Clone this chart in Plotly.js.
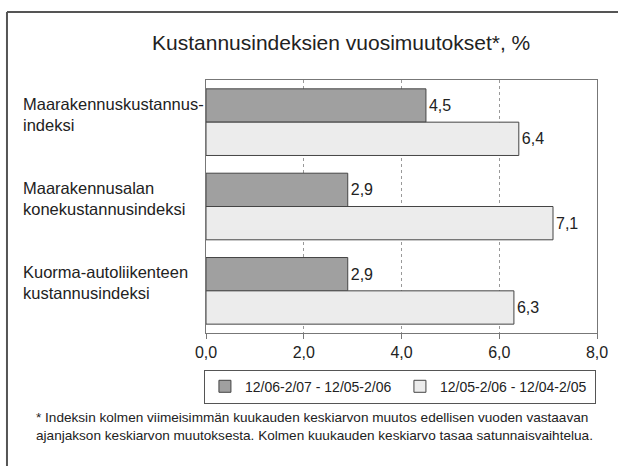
<!DOCTYPE html>
<html>
<head>
<meta charset="utf-8">
<script src="https://cdn.plot.ly/plotly-3.0.1.min.js"></script>
<style>
html,body{margin:0;padding:0;background:#fff;}
#chart{width:618px;height:466px;}
</style>
</head>
<body>
<div id="chart"></div>
<script>
var categories = ["Maarakennuskustannus-<br>indeksi", "Maarakennusalan<br>konekustannusindeksi", "Kuorma-autoliikenteen<br>kustannusindeksi"];
var categoryKeys = ["A", "B", "C"];
var series1Name = "12/06-2/07 - 12/05-2/06";
var series2Name = "12/05-2/06 - 12/04-2/05";
var series1Values = [4.5, 2.9, 2.9];
var series2Values = [6.4, 7.1, 6.3];
var tickValues = [0, 2, 4, 6, 8];

var FONT = "'Liberation Sans', Arial, sans-serif";

var traces = [
  {
    type: "bar", orientation: "h", name: series1Name,
    y: categoryKeys, x: series1Values,
    marker: {color: "#a0a0a0", line: {color: "#444", width: 1}},
    texttemplate: "%{x:.1f}", textposition: "outside",
    textfont: {family: FONT, size: 16, color: "#222"},
    cliponaxis: false, hoverinfo: "none"
  },
  {
    type: "bar", orientation: "h", name: series2Name,
    y: categoryKeys, x: series2Values,
    marker: {color: "#ececec", line: {color: "#444", width: 1}},
    texttemplate: "%{x:.1f}", textposition: "outside",
    textfont: {family: FONT, size: 16, color: "#222"},
    cliponaxis: false, hoverinfo: "none"
  }
];

var annotations = categories.map(function (c, i) {
  return {
    text: c, xref: "paper", yref: "y", x: -0.474, y: categoryKeys[i],
    xanchor: "left", yanchor: "middle", align: "left", showarrow: false,
    yshift: 8, font: {family: FONT, size: 16.5, color: "#222"}
  };
});
annotations.push({
  text: "* Indeksin kolmen viimeisimmän kuukauden keskiarvon muutos edellisen vuoden vastaavan<br>ajanjakson keskiarvon muutoksesta. Kolmen kuukauden keskiarvo tasaa satunnaisvaihtelua.",
  xref: "paper", yref: "paper", x: -0.44, y: -0.298, xanchor: "left", yanchor: "top",
  align: "left", showarrow: false, font: {family: FONT, size: 13.6, color: "#222"}
});

var layout = {
  width: 618, height: 466,
  margin: {l: 206, r: 21, t: 80, b: 133},
  paper_bgcolor: "#fff", plot_bgcolor: "#fff",
  separators: ", ",
  barmode: "group", bargap: 0.21, bargroupgap: 0.0,
  title: {text: "Kustannusindeksien vuosimuutokset*, %", x: 0.552, xanchor: "center", y: 0.908, yanchor: "middle",
          font: {family: FONT, size: 21, color: "#222"}},
  xaxis: {
    range: [0, 8], tickvals: tickValues, tickformat: ".1f",
    showgrid: true, gridcolor: "#999", griddash: "dot", gridwidth: 1,
    showline: true, mirror: true, linecolor: "#777", linewidth: 1,
    ticks: "outside", ticklen: 5, tickcolor: "#777",
    tickfont: {family: FONT, size: 16, color: "#222"}, zeroline: false, fixedrange: true
  },
  yaxis: {
    type: "category", autorange: "reversed", showticklabels: false,
    showgrid: false, showline: true, mirror: true, linecolor: "#777", linewidth: 1,
    ticks: "", zeroline: false, fixedrange: true
  },
  showlegend: true,
  legend: {
    orientation: "h", x: 0.496, xanchor: "center", y: -0.145, yanchor: "top",
    bordercolor: "#555", borderwidth: 1, bgcolor: "#fff",
    font: {family: FONT, size: 14, color: "#222"}, traceorder: "normal",
    itemwidth: 30, entrywidth: 150, entrywidthmode: "pixels"
  },
  annotations: annotations,
  shapes: [
    {type: "line", xref: "paper", yref: "paper", x0: -0.509, x1: 1.2, y0: 1.269, y1: 1.269, line: {color: "#555", width: 2}},
    {type: "line", xref: "paper", yref: "paper", x0: -0.509, x1: -0.509, y0: 1.269, y1: -0.6, line: {color: "#555", width: 2}}
  ]
};

Plotly.newPlot("chart", traces, layout, {displayModeBar: false, staticPlot: true});
</script>
</body>
</html>
